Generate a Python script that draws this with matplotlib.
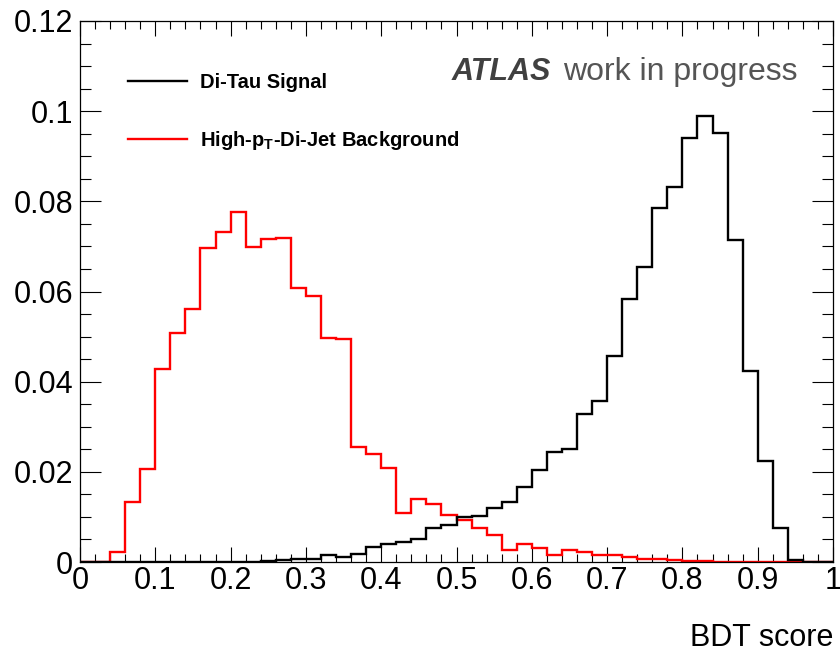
import numpy as np
import matplotlib
matplotlib.use("Agg")
import matplotlib.pyplot as plt
from matplotlib.ticker import MultipleLocator

plt.rcParams['font.family'] = ['Liberation Sans', 'DejaVu Sans']
plt.rcParams['mathtext.fontset'] = 'custom'
plt.rcParams['mathtext.rm'] = 'Liberation Sans'
plt.rcParams['mathtext.bf'] = 'Liberation Sans:bold'

# BDT score histograms, 50 bins on [0, 1], normalised to unit area
bin_edges = np.linspace(0.0, 1.0, 51)

signal = [
    0.0, 0.0, 0.0, 0.0, 0.0, 0.0, 0.00003, 0.00003, 0.00005, 0.00005,
    0.0001, 0.0001, 0.0002, 0.0004, 0.00074, 0.00074, 0.0015, 0.0012, 0.0018, 0.0033,
    0.0040, 0.0045, 0.0051, 0.0075, 0.0083, 0.0099, 0.0102, 0.0119, 0.0132, 0.0167,
    0.0204, 0.0243, 0.0250, 0.0328, 0.0358, 0.0457, 0.0583, 0.0654, 0.0785, 0.0831,
    0.0940, 0.0989, 0.0952, 0.0714, 0.0424, 0.0223, 0.0076, 0.0004, 0.0, 0.0,
]

background = [
    0.0, 0.0, 0.00215, 0.0132, 0.0206, 0.0429, 0.0509, 0.0562, 0.0696, 0.0731,
    0.0776, 0.0698, 0.0717, 0.0719, 0.0607, 0.0589, 0.0496, 0.0495, 0.0255, 0.0240,
    0.0209, 0.0108, 0.0139, 0.0129, 0.0104, 0.0093, 0.0075, 0.0060, 0.0027, 0.0039,
    0.0031, 0.0016, 0.0027, 0.0023, 0.0015, 0.0015, 0.0011, 0.0007, 0.0007, 0.0004,
    0.0003, 0.0002, 0.0001, 0.0001, 0.0001, 0.0001, 0.00005, 0.00005, 0.00005, 0.00005,
]

signal_label = "Di-Tau Signal"
background_label = r"High-$\mathbf{p}_{\mathbf{T}}$-Di-Jet Background"


def main():
    fig = plt.figure(figsize=(8.4, 6.52), dpi=100)
    ax = fig.add_axes([80 / 840, 1 - 562 / 652, 753 / 840, 541 / 652])

    ax.stairs(background, bin_edges, color='#ff0000', linewidth=1.7,
              label=background_label, zorder=2)
    ax.stairs(signal, bin_edges, color='black', linewidth=1.7,
              label=signal_label, zorder=3)

    ax.set_xlim(0, 1)
    ax.set_ylim(0, 0.12)

    ax.xaxis.set_major_locator(MultipleLocator(0.1))
    ax.xaxis.set_minor_locator(MultipleLocator(0.02))
    ax.yaxis.set_major_locator(MultipleLocator(0.02))
    ax.yaxis.set_minor_locator(MultipleLocator(0.005))
    ax.xaxis.set_major_formatter(lambda v, p: f"{v:g}")
    ax.yaxis.set_major_formatter(lambda v, p: f"{v:g}")

    ax.tick_params(axis='both', which='both', direction='in', top=True, right=True,
                   width=0.8, labelsize=22)
    ax.tick_params(axis='x', which='major', length=11, pad=3)
    ax.tick_params(axis='x', which='minor', length=6)
    ax.tick_params(axis='y', which='major', length=15, pad=5)
    ax.tick_params(axis='y', which='minor', length=8)
    for s in ax.spines.values():
        s.set_linewidth(0.9)

    ax.set_xlabel("BDT score", fontsize=22, loc='right', labelpad=19)

    handles, labels = ax.get_legend_handles_labels()
    leg = ax.legend(handles[::-1], labels[::-1], loc='upper left',
                    bbox_to_anchor=(0.040, 0.938), frameon=False,
                    prop={'size': 14.5, 'weight': 'bold'},
                    handlelength=2.9, handletextpad=0.65, labelspacing=1.85)
    for line in leg.get_lines():
        line.set_linewidth(1.7)

    fig.text(452 / 840, 1 - 80 / 652, "ATLAS", fontsize=22, fontweight='bold',
             fontstyle='italic', color='#404040', va='baseline')
    fig.text(563 / 840, 1 - 80 / 652, "work in progress", fontsize=23,
             color='#555555', va='baseline')

    fig.savefig("out.png", dpi=100)


if __name__ == "__main__":
    main()
